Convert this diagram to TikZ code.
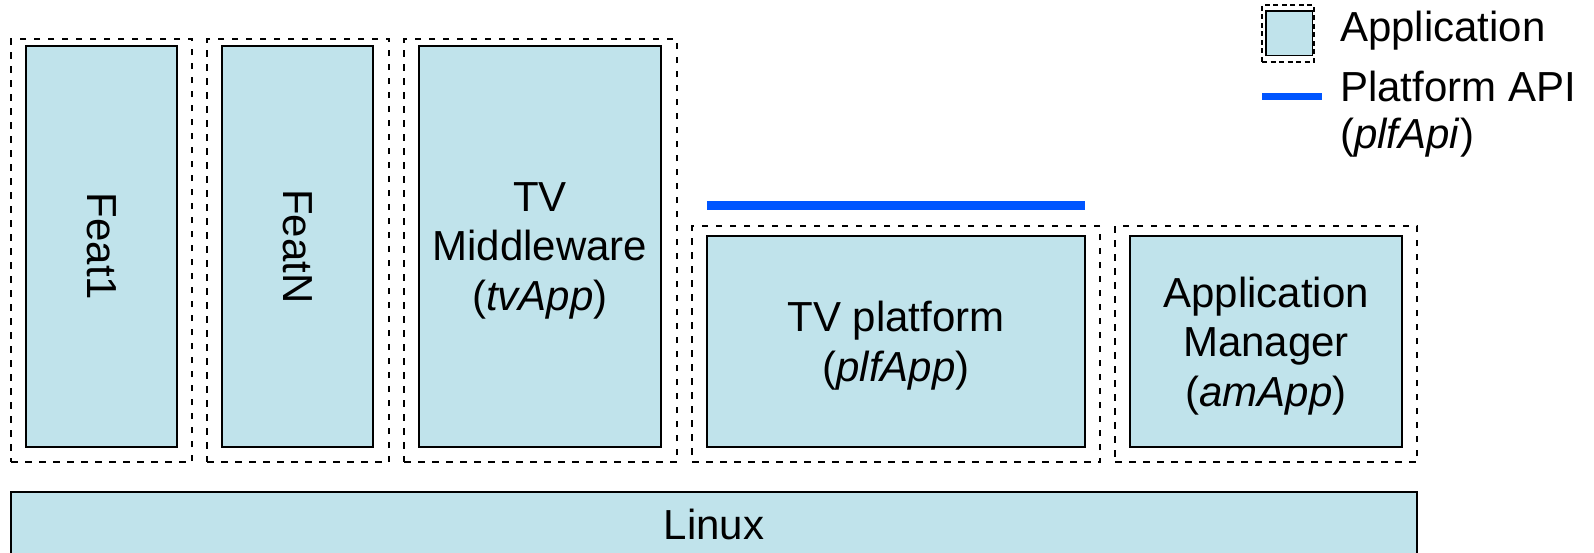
\documentclass[tikz,border=0pt]{standalone}
\usepackage{fontspec}
\setmainfont{Liberation Sans}
\definecolor{appfill}{RGB}{192,227,235}
\definecolor{apiblue}{RGB}{0,85,255}
\begin{document}
\begin{tikzpicture}[x=1pt,y=-1pt,
  txt/.style={font=\fontsize{42}{49.5}\selectfont},
  inbox/.style={txt, draw=black, fill=appfill, line width=1.5pt, inner sep=0pt, align=center},
  multi/.style={text depth=0pt},
  outbox/.style={draw=black, line width=2pt, dash pattern=on 6.5pt off 7.5pt, inner sep=0pt},
  legbox/.style={draw=black, line width=1.7pt, dash pattern=on 5pt off 3.5pt, inner sep=0pt},
  api/.style={draw=apiblue, line width=8.5pt},
  lbl/.style={txt, inner sep=0pt, anchor=base west}]
\useasboundingbox (0,0) rectangle (1594,552);

% application containers (dashed outlines)
\node[outbox, minimum width=181pt, minimum height=423pt] (feat1o) at (101.5,250.5) {};
\node[outbox, minimum width=182pt, minimum height=423pt] (featNo) at (298,250.5) {};
\node[outbox, minimum width=273pt, minimum height=423pt] (tvmo) at (540.5,250.5) {};
\node[outbox, minimum width=408pt, minimum height=236pt] (tvpo) at (896,344) {};
\node[outbox, minimum width=302pt, minimum height=236pt] (amo) at (1266,344) {};

% components
\node[inbox, rotate=-90, minimum width=401pt, minimum height=151pt] (feat1) at (101.5,246.5) {Feat1};
\node[inbox, rotate=-90, minimum width=401pt, minimum height=151pt] (featN) at (297.5,246.5) {FeatN};
\node[inbox, multi, minimum width=242pt, minimum height=401pt] (tvm) at (540,246.5)
  {TV\\Middleware\\(\textit{tvApp})};
\node[inbox, multi, minimum width=378pt, minimum height=211pt] (tvp) at (896,341.5)
  {TV platform\\(\textit{plfApp})};
\node[inbox, multi, minimum width=272pt, minimum height=211pt] (am) at (1266,341.5)
  {Application\\Manager\\(\textit{amApp})};

% operating system layer
\node[inbox, minimum width=1406pt, minimum height=64pt] (linux) at (714,524) {Linux};

% platform API line above the TV platform
\coordinate (apiL) at (707,205.5);
\coordinate (apiR) at (1085,205.5);
\draw[api] (apiL) -- (apiR);

% legend
\node[legbox, minimum width=52pt, minimum height=56.7pt] (legapp) at (1288,33.3) {};
\node[draw=black, fill=appfill, line width=1.5pt, inner sep=0pt, minimum width=46.7pt, minimum height=44.7pt] (legappin) at (1289.35,33.35) {};
\node[lbl] (legapptxt) at (1340,41.7) {Application};
\coordinate (legapiL) at (1262,96.7);
\coordinate (legapiR) at (1321.7,96.7);
\draw[draw=apiblue, line width=7pt] (legapiL) -- (legapiR);
\node[lbl] (legapitxt) at (1340,101.7) {Platform API};
\node[lbl] (legapitxt2) at (1340,148) {(\textit{plfApi})};
\end{tikzpicture}
\end{document}
